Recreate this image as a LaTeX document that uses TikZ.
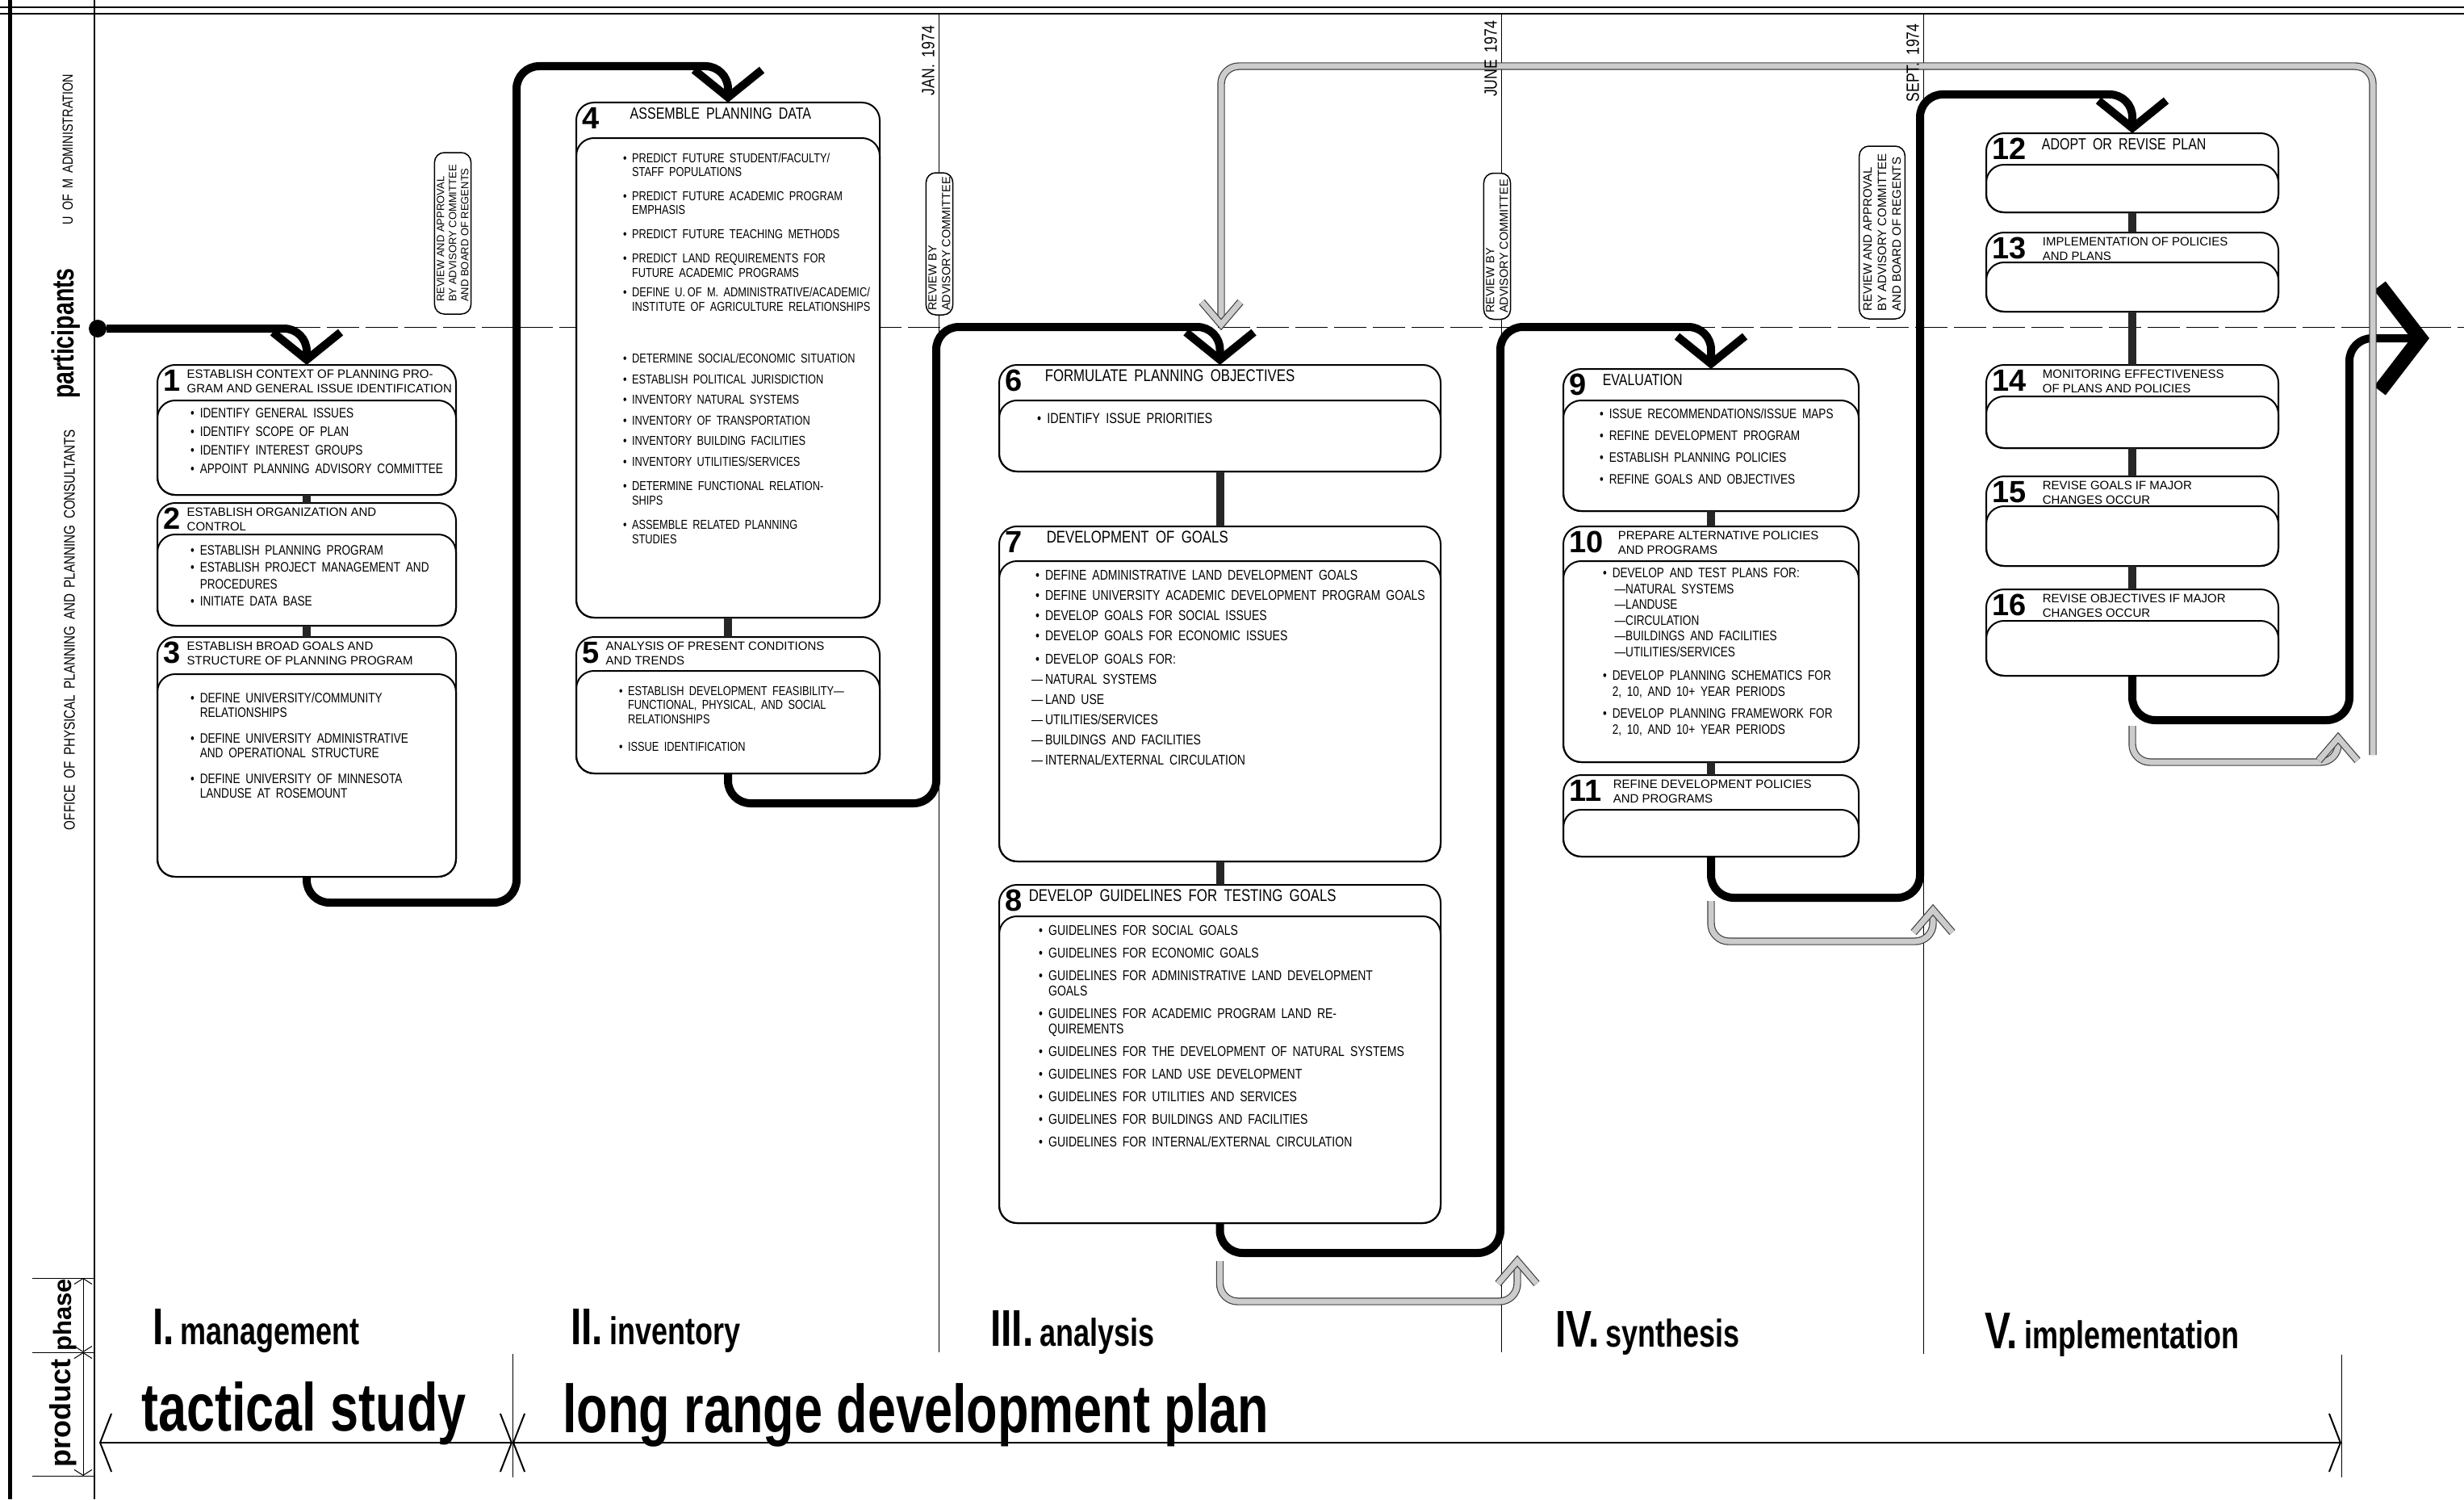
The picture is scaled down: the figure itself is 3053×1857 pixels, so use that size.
\documentclass[tikz,border=0pt]{standalone}
\usepackage{fontspec}
\setmainfont{Liberation Sans}
\newfontfamily\hand[FakeStretch=0.8,WordSpace=1.8]{Liberation Sans}
\newfontfamily\cond[FakeStretch=0.75]{Liberation Sans}
\usetikzlibrary{arrows.meta}

\begin{document}
\begin{tikzpicture}[
x=1pt, y=-1pt,
card/.style={draw, line width=2pt, rounded corners=22pt, fill=white, anchor=north west, inner sep=0pt, outer sep=0pt},
body/.style={draw, line width=2pt, rounded corners=22pt, anchor=north west, inner sep=0pt, outer sep=0pt},
num/.style={anchor=north west, xshift=7pt, yshift=-6pt, inner sep=0pt, font=\bfseries\fontsize{38}{38}\selectfont},
head/.style={anchor=north west, xshift=8pt, inner sep=0pt, align=left, font=\fontsize{15}{17.8}\selectfont},
items/.style={anchor=north west, inner sep=0pt, font=\hand\fontsize{17}{23}\selectfont},
link/.style={draw=black!85, line width=10pt},
flow/.style={draw, line width=10pt, rounded corners=28pt, -{Straight Barb[length=34pt,width=84pt]}},
bigflow/.style={draw, line width=10pt, rounded corners=28pt, -{Straight Barb[length=50pt,width=130pt,line width=18pt]}},
fb/.style={draw=black!75, line width=1.2pt, double=gray!40, double distance=7pt, rounded corners=22pt},
review/.style={draw, line width=1.5pt, rounded corners=12pt, fill=white, rotate=90, align=left, inner sep=3pt, font=\fontsize{13}{15}\selectfont},
date/.style={rotate=90, anchor=south, inner sep=3pt, font=\hand\fontsize{22}{22}\selectfont},
side/.style={rotate=90, inner sep=0pt},
rule/.style={draw, line width=1pt},
phase/.style={anchor=base west, inner sep=0pt, font=\cond\bfseries\fontsize{48}{48}\selectfont},
product/.style={anchor=base west, inner sep=0pt, font=\cond\bfseries\fontsize{84}{84}\selectfont},
span/.style={draw, line width=2pt, {Straight Barb[length=14pt,width=72pt]}-{Straight Barb[length=14pt,width=72pt]}},
tick/.style={draw, line width=1pt, {Straight Barb[length=7pt,width=22pt]}-{Straight Barb[length=7pt,width=22pt]}}
]
\useasboundingbox (0,0) rectangle (3053,1857);

% frame
\draw[line width=5pt] (12,0) -- (12,1857);
\draw[line width=1.5pt] (117,0) -- (117,1857);
\draw[line width=1.2pt] (0,9) -- (3053,9);
\draw[line width=2pt] (0,17) -- (3053,17);
\draw[rule, dash pattern=on 40pt off 8pt] (117,405) -- (3053,405);
\draw[rule] (1163,17) -- (1163,1675);
\draw[rule] (1860,17) -- (1860,1675);
\draw[rule] (2383,17) -- (2383,1677);
\draw[rule] (635,1677) -- (635,1830);
\draw[rule] (2901,1678) -- (2901,1830);
\foreach \y in {1583,1675,1828} \draw[rule] (40,\y) -- (117,\y);

% left column
\node[side, font=\hand\fontsize{18}{18}\selectfont] (admin) at (84,185) {U OF M ADMINISTRATION};
\node[side, font=\cond\bfseries\fontsize{38}{38}\selectfont] (part) at (82,413) {participants};
\node[side, font=\hand\fontsize{19}{19}\selectfont] (office) at (86,780) {OFFICE OF PHYSICAL PLANNING AND PLANNING CONSULTANTS};
\node[side, font=\bfseries\fontsize{31}{31}\selectfont] (phs) at (80,1629) {phase};
\node[side, font=\bfseries\fontsize{36}{36}\selectfont] (prd) at (78,1750) {product};
\coordinate (ph1) at (103,1583);
\coordinate (ph2) at (103,1675);
\coordinate (ph3) at (103,1828);
\draw[tick] (ph1) -- (ph2);
\draw[tick] (ph2) -- (ph3);

% reviews
\node[review, minimum width=200] (r1) at (561,289) {REVIEW AND APPROVAL\\BY ADVISORY COMMITTEE\\AND BOARD OF REGENTS};
\node[review, minimum width=176, font=\fontsize{14.5}{17}\selectfont] (r2) at (1164,302) {REVIEW BY\\ADVISORY COMMITTEE};
\node[review, minimum width=181, font=\fontsize{14.5}{17}\selectfont] (r3) at (1855,305) {REVIEW BY\\ADVISORY COMMITTEE};
\node[review, minimum width=214, inner sep=5pt, font=\fontsize{15}{18}\selectfont] (r4) at (2332,288) {REVIEW AND APPROVAL\\BY ADVISORY COMMITTEE\\AND BOARD OF REGENTS};

% I. management
\node[card, minimum width=370, minimum height=161] (b1) at (195,452) {};
\node[num] (n1) at (b1.north west) {1};
\node[head] (h1) at (n1.north east) {ESTABLISH CONTEXT OF PLANNING PRO-\\GRAM AND GENERAL ISSUE IDENTIFICATION};
\node[body, minimum width=370, minimum height=117] (b1i) at (195,496) {};
\node[items] (i1) at ([shift={(41pt,-5pt)}]b1i.north west) {\begin{tabular}{@{}l@{\ }l@{}}
•&IDENTIFY GENERAL ISSUES\\
•&IDENTIFY SCOPE OF PLAN\\
•&IDENTIFY INTEREST GROUPS\\
•&APPOINT PLANNING ADVISORY COMMITTEE
\end{tabular}};

\node[card, minimum width=370, minimum height=152] (b2) at (195,623) {};
\node[num] (n2) at (b2.north west) {2};
\node[head] (h2) at (n2.north east) {ESTABLISH ORGANIZATION AND\\CONTROL};
\node[body, minimum width=370, minimum height=113] (b2i) at (195,662) {};
\node[items, font=\hand\fontsize{17}{21}\selectfont] (i2) at ([shift={(41pt,-11pt)}]b2i.north west) {\begin{tabular}{@{}l@{\ }l@{}}
•&ESTABLISH PLANNING PROGRAM\\
•&ESTABLISH PROJECT MANAGEMENT AND\\
&PROCEDURES\\
•&INITIATE DATA BASE
\end{tabular}};

\node[card, minimum width=370, minimum height=297] (b3) at (195,789) {};
\node[num] (n3) at (b3.north west) {3};
\node[head] (h3) at (n3.north east) {ESTABLISH BROAD GOALS AND\\STRUCTURE OF PLANNING PROGRAM};
\node[body, minimum width=370, minimum height=251] (b3i) at (195,835) {};
\node[items, font=\hand\fontsize{17}{18.5}\selectfont] (i3) at ([shift={(41pt,-22pt)}]b3i.north west) {\begin{tabular}{@{}l@{\ }l@{}}
•&DEFINE UNIVERSITY/COMMUNITY\\
&RELATIONSHIPS\\[13pt]
•&DEFINE UNIVERSITY ADMINISTRATIVE\\
&AND OPERATIONAL STRUCTURE\\[13pt]
•&DEFINE UNIVERSITY OF MINNESOTA\\
&LANDUSE AT ROSEMOUNT
\end{tabular}};

% II. inventory
\node[card, minimum width=376, minimum height=638] (b4) at (714,127) {};
\node[num] (n4) at (b4.north west) {4};
\node[head, xshift=30pt, font=\hand\fontsize{20}{20}\selectfont] (h4) at (n4.north east) {ASSEMBLE PLANNING DATA};
\node[body, minimum width=376, minimum height=594] (b4i) at (714,171) {};
\node[items, font=\hand\fontsize{16}{17.5}\selectfont] (i4) at ([shift={(58pt,-18pt)}]b4i.north west) {\begin{tabular}{@{}l@{\ }l@{}}
•&PREDICT FUTURE STUDENT/FACULTY/\\
&STAFF POPULATIONS\\[12pt]
•&PREDICT FUTURE ACADEMIC PROGRAM\\
&EMPHASIS\\[12pt]
•&PREDICT FUTURE TEACHING METHODS\\[13pt]
•&PREDICT LAND REQUIREMENTS FOR\\
&FUTURE ACADEMIC PROGRAMS\\[7pt]
•&DEFINE U.\,OF M. ADMINISTRATIVE/ACADEMIC/\\
&INSTITUTE OF AGRICULTURE RELATIONSHIPS\\[47pt]
•&DETERMINE SOCIAL/ECONOMIC SITUATION\\[8pt]
•&ESTABLISH POLITICAL JURISDICTION\\[8pt]
•&INVENTORY NATURAL SYSTEMS\\[8pt]
•&INVENTORY OF TRANSPORTATION\\[8pt]
•&INVENTORY BUILDING FACILITIES\\[8pt]
•&INVENTORY UTILITIES/SERVICES\\[13pt]
•&DETERMINE FUNCTIONAL RELATION-\\
&SHIPS\\[13pt]
•&ASSEMBLE RELATED PLANNING\\
&STUDIES
\end{tabular}};

\node[card, minimum width=376, minimum height=169] (b5) at (714,789) {};
\node[num] (n5) at (b5.north west) {5};
\node[head] (h5) at (n5.north east) {ANALYSIS OF PRESENT CONDITIONS\\AND TRENDS};
\node[body, minimum width=376, minimum height=127] (b5i) at (714,831) {};
\node[items, font=\hand\fontsize{16}{17.5}\selectfont] (i5) at ([shift={(53pt,-18pt)}]b5i.north west) {\begin{tabular}{@{}l@{\ }l@{}}
•&ESTABLISH DEVELOPMENT FEASIBILITY—\\
&FUNCTIONAL, PHYSICAL, AND SOCIAL\\
&RELATIONSHIPS\\[17pt]
•&ISSUE IDENTIFICATION
\end{tabular}};

% III. analysis
\node[card, minimum width=547, minimum height=132] (b6) at (1238,452) {};
\node[num] (n6) at (b6.north west) {6};
\node[head, xshift=20pt, font=\hand\fontsize{21}{21}\selectfont] (h6) at (n6.north east) {FORMULATE PLANNING OBJECTIVES};
\node[body, minimum width=547, minimum height=88] (b6i) at (1238,496) {};
\node[items, font=\hand\fontsize{18}{20}\selectfont] (i6) at ([shift={(47pt,-14pt)}]b6i.north west) {\begin{tabular}{@{}l@{\ }l@{}}
•&IDENTIFY ISSUE PRIORITIES
\end{tabular}};

\node[card, minimum width=547, minimum height=415] (b7) at (1238,652) {};
\node[num] (n7) at (b7.north west) {7};
\node[head, xshift=22pt, font=\hand\fontsize{21}{21}\selectfont] (h7) at (n7.north east) {DEVELOPMENT OF GOALS};
\node[body, minimum width=547, minimum height=372] (b7i) at (1238,695) {};
\node[items, font=\hand\fontsize{17.5}{25}\selectfont] (i7) at ([shift={(45pt,-6pt)}]b7i.north west) {\begin{tabular}{@{}l@{\ }l@{}}
•&DEFINE ADMINISTRATIVE LAND DEVELOPMENT GOALS\\
•&DEFINE UNIVERSITY ACADEMIC DEVELOPMENT PROGRAM GOALS\\
•&DEVELOP GOALS FOR SOCIAL ISSUES\\
•&DEVELOP GOALS FOR ECONOMIC ISSUES\\[4pt]
•&DEVELOP GOALS FOR:\\
&\llap{—\,}NATURAL SYSTEMS\\
&\llap{—\,}LAND USE\\
&\llap{—\,}UTILITIES/SERVICES\\
&\llap{—\,}BUILDINGS AND FACILITIES\\
&\llap{—\,}INTERNAL/EXTERNAL CIRCULATION
\end{tabular}};

\node[card, minimum width=547, minimum height=419] (b8) at (1238,1096) {};
\node[num] (n8) at (b8.north west) {8};
\node[head, font=\hand\fontsize{21}{21}\selectfont] (h8) at (n8.north east) {DEVELOP GUIDELINES FOR TESTING GOALS};
\node[body, minimum width=547, minimum height=380] (b8i) at (1238,1135) {};
\node[items, font=\hand\fontsize{17.5}{19}\selectfont] (i8) at ([shift={(49pt,-10pt)}]b8i.north west) {\begin{tabular}{@{}l@{\ }l@{}}
•&GUIDELINES FOR SOCIAL GOALS\\[9pt]
•&GUIDELINES FOR ECONOMIC GOALS\\[9pt]
•&GUIDELINES FOR ADMINISTRATIVE LAND DEVELOPMENT\\
&GOALS\\[9pt]
•&GUIDELINES FOR ACADEMIC PROGRAM LAND RE-\\
&QUIREMENTS\\[9pt]
•&GUIDELINES FOR THE DEVELOPMENT OF NATURAL SYSTEMS\\[9pt]
•&GUIDELINES FOR LAND USE DEVELOPMENT\\[9pt]
•&GUIDELINES FOR UTILITIES AND SERVICES\\[9pt]
•&GUIDELINES FOR BUILDINGS AND FACILITIES\\[9pt]
•&GUIDELINES FOR INTERNAL/EXTERNAL CIRCULATION
\end{tabular}};

% IV. synthesis
\node[card, minimum width=366, minimum height=176] (b9) at (1937,457) {};
\node[num] (n9) at (b9.north west) {9};
\node[head, xshift=12pt, font=\hand\fontsize{20}{20}\selectfont] (h9) at (n9.north east) {EVALUATION};
\node[body, minimum width=366, minimum height=137] (b9i) at (1937,496) {};
\node[items, font=\hand\fontsize{17}{27}\selectfont] (i9) at ([shift={(45pt,-3pt)}]b9i.north west) {\begin{tabular}{@{}l@{\ }l@{}}
•&ISSUE RECOMMENDATIONS/ISSUE MAPS\\
•&REFINE DEVELOPMENT PROGRAM\\
•&ESTABLISH PLANNING POLICIES\\
•&REFINE GOALS AND OBJECTIVES
\end{tabular}};

\node[card, minimum width=366, minimum height=292] (b10) at (1937,652) {};
\node[num] (n10) at (b10.north west) {10};
\node[head, xshift=10pt] (h10) at (n10.north east) {PREPARE ALTERNATIVE POLICIES\\AND PROGRAMS};
\node[body, minimum width=366, minimum height=249] (b10i) at (1937,695) {};
\node[items, font=\hand\fontsize{17}{19.5}\selectfont] (i10) at ([shift={(49pt,-7pt)}]b10i.north west) {\begin{tabular}{@{}l@{\ }l@{}}
•&DEVELOP AND TEST PLANS FOR:\\
&\,—NATURAL SYSTEMS\\
&\,—LANDUSE\\
&\,—CIRCULATION\\
&\,—BUILDINGS AND FACILITIES\\
&\,—UTILITIES/SERVICES\\[10pt]
•&DEVELOP PLANNING SCHEMATICS FOR\\
&2, 10, AND 10+ YEAR PERIODS\\[8pt]
•&DEVELOP PLANNING FRAMEWORK FOR\\
&2, 10, AND 10+ YEAR PERIODS
\end{tabular}};

\node[card, minimum width=366, minimum height=101] (b11) at (1937,960) {};
\node[num] (n11) at (b11.north west) {11};
\node[head, xshift=6pt] (h11) at (n11.north east) {REFINE DEVELOPMENT POLICIES\\AND PROGRAMS};
\node[body, minimum width=366, minimum height=58] (b11i) at (1937,1003) {};

% V. implementation
\node[card, minimum width=362, minimum height=98] (b12) at (2461,165) {};
\node[num] (n12) at (b12.north west) {12};
\node[head, xshift=11pt, font=\hand\fontsize{20}{20}\selectfont] (h12) at (n12.north east) {ADOPT OR REVISE PLAN};
\node[body, minimum width=362, minimum height=59] (b12i) at (2461,204) {};

\node[card, minimum width=362, minimum height=98] (b13) at (2461,288) {};
\node[num] (n13) at (b13.north west) {13};
\node[head, xshift=12pt] (h13) at (n13.north east) {IMPLEMENTATION OF POLICIES\\AND PLANS};
\node[body, minimum width=362, minimum height=61] (b13i) at (2461,325) {};

\node[card, minimum width=362, minimum height=103] (b14) at (2461,452) {};
\node[num] (n14) at (b14.north west) {14};
\node[head, xshift=12pt] (h14) at (n14.north east) {MONITORING EFFECTIVENESS\\OF PLANS AND POLICIES};
\node[body, minimum width=362, minimum height=64] (b14i) at (2461,491) {};

\node[card, minimum width=362, minimum height=111] (b15) at (2461,590) {};
\node[num] (n15) at (b15.north west) {15};
\node[head, xshift=12pt] (h15) at (n15.north east) {REVISE GOALS IF MAJOR\\CHANGES OCCUR};
\node[body, minimum width=362, minimum height=74] (b15i) at (2461,627) {};

\node[card, minimum width=362, minimum height=107] (b16) at (2461,730) {};
\node[num] (n16) at (b16.north west) {16};
\node[head, xshift=12pt] (h16) at (n16.north east) {REVISE OBJECTIVES IF MAJOR\\CHANGES OCCUR};
\node[body, minimum width=362, minimum height=68] (b16i) at (2461,769) {};

% links
\draw[link] (b1.south) -- (b2.north);
\draw[link] (b2.south) -- (b3.north);
\draw[link] (b4.south) -- (b5.north);
\draw[link] (b6.south) -- (b7.north);
\draw[link] (b7.south) -- (b8.north);
\draw[link] (b9.south) -- (b10.north);
\draw[link] (b10.south) -- (b11.north);
\draw[link] (b12.south) -- (b13.north);
\draw[link] (b13.south) -- (b14.north);
\draw[link] (b14.south) -- (b15.north);
\draw[link] (b15.south) -- (b16.north);

% main flow
\node[circle, fill, inner sep=0pt, minimum size=22pt] (dot) at (121,407) {};
\coordinate (t2) at (640,82);
\coordinate (t3) at (1160,405);
\coordinate (t4) at (1859,405);
\coordinate (t5) at (2379,117);
\coordinate (t6) at (2911,419);
\coordinate (tend) at (3010,419);
\draw[flow] (dot) -| (b1.north);
\draw[flow] (b3.south) -- ++(0,32) -| (t2) -| (b4.north);
\draw[flow] (b5.south) -- ++(0,37) -| (t3) -| (b6.north);
\draw[flow] (b8.south) -- ++(0,37) -| (t4) -| (b9.north);
\draw[flow] (b11.south) -- ++(0,51) -| (t5) -| (b12.north);
\draw[bigflow] (b16.south) -- ++(0,55) -| (t6) -- (tend);

% feedback
\coordinate (aA) at (1880,1562);
\coordinate (aB) at (2395,1127);
\coordinate (aC) at (2897,914);
\coordinate (gS) at (2940,935);
\coordinate (gR) at (2940,82);
\coordinate (aD) at (1513,402);
\draw[fb] ([yshift=-47pt]b8.south) -- ++(0,50) -| (aA);
\draw[fb, rounded corners=0pt] ([shift={(-24pt,-28pt)}]aA) -- (aA) -- ([shift={(24pt,-28pt)}]aA);
\draw[fb] ([yshift=-55pt]b11.south) -- ++(0,50) -| (aB);
\draw[fb, rounded corners=0pt] ([shift={(-24pt,-28pt)}]aB) -- (aB) -- ([shift={(24pt,-28pt)}]aB);
\draw[fb] ([yshift=-62pt]b16.south) -- ++(0,45) -| (aC);
\draw[fb, rounded corners=0pt] ([shift={(-24pt,-28pt)}]aC) -- (aC) -- ([shift={(24pt,-28pt)}]aC);
\draw[fb] (gS) -- (gR) -| (aD);
\draw[fb, rounded corners=0pt] ([shift={(-24pt,28pt)}]aD) -- (aD) -- ([shift={(24pt,28pt)}]aD);

% dates
\node[date] (jan) at (1161,75) {JAN. 1974};
\node[date] (june) at (1858,73) {JUNE 1974};
\node[date] (sept) at (2381,78) {SEPT. 1974};

% phase and product
\node[phase] (p1) at (189,1665) {{\fontsize{64}{64}\selectfont I.}\,management};
\node[phase] (p2) at (707,1665) {{\fontsize{64}{64}\selectfont II.}\,inventory};
\node[phase] (p3) at (1227,1667) {{\fontsize{64}{64}\selectfont III.}\,analysis};
\node[phase] (p4) at (1927,1668) {{\fontsize{64}{64}\selectfont IV.}\,synthesis};
\node[phase] (p5) at (2459,1670) {{\fontsize{64}{64}\selectfont V.}\,implementation};
\node[product] (tac) at (175,1772) {tactical study};
\node[product] (lrdp) at (697,1774) {long range development plan};
\coordinate (ps) at (123,1787);
\coordinate (pm) at (635,1787);
\coordinate (pe) at (2901,1787);
\draw[span] (ps) -- (pm);
\draw[span] (pm) -- (pe);

\end{tikzpicture}
\end{document}
